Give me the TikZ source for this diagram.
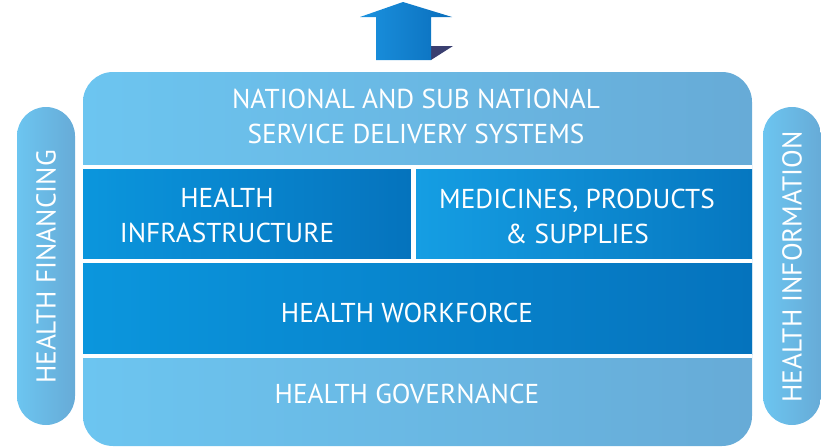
\documentclass[tikz,border=0pt]{standalone}
\usepackage{fontspec}
\setmainfont{PT Sans}
\definecolor{paleL}{HTML}{6CC5F0}
\definecolor{paleR}{HTML}{67ABD7}
\definecolor{deepL}{HTML}{0B96DD}
\definecolor{deepR}{HTML}{0573BD}
\definecolor{medL}{HTML}{159EE3}
\definecolor{medR}{HTML}{0677C0}
\definecolor{arrL}{HTML}{1B92DF}
\definecolor{arrR}{HTML}{0A6EBC}
\definecolor{shadowblue}{HTML}{3A3F70}
\tikzset{
  label/.style={text=white, font=\fontsize{27.3}{35}\selectfont, align=center, inner sep=0pt},
  pale/.style={left color=paleL, right color=paleR},
  deep/.style={left color=deepL, right color=deepR},
  gap/.style={fill=white}
}
\begin{document}
\begin{tikzpicture}[x=1pt, y=-1pt]
\useasboundingbox (0,0) rectangle (821,447);
% upward arrow with its shadow
\fill[shadowblue] (431,46) -- (453,46) -- (431,60) -- cycle;
\shade[left color=arrL, right color=arrR] (376,60) -- (376,17) -- (360,17) -- (403,2) -- (452,17) -- (431,17) -- (431,60) -- cycle;
% side pillars
\shade[pale, rounded corners=29pt] (17,107) rectangle (75,425);
\shade[pale, rounded corners=29pt] (763,107) rectangle (821,425);
% main body
\shade[pale, rounded corners=30pt] (83,72) rectangle (752,446);
% dark rows
\shade[deep] (83,169) rectangle (411,259);
\shade[left color=medL, right color=medR] (416,169) rectangle (752,259);
\shade[deep] (83,263) rectangle (752,354);
% white separators
\fill[gap] (83,165) rectangle (752,169);
\fill[gap] (83,259) rectangle (752,263);
\fill[gap] (83,354) rectangle (752,358);
\fill[gap] (411,169) rectangle (416,259);
% labels
\node[label] (sds) at (416,116) {NATIONAL AND SUB NATIONAL\\SERVICE DELIVERY SYSTEMS};
\node[label] (infra) at (227,215) {HEALTH\\INFRASTRUCTURE};
\node[label] (meds) at (577,216) {MEDICINES, PRODUCTS\\\& SUPPLIES};
\node[label] (work) at (407,313) {HEALTH WORKFORCE};
\node[label] (gov) at (407,394) {HEALTH GOVERNANCE};
\node[label, rotate=90] (fin) at (46,267) {HEALTH FINANCING};
\node[label, rotate=90] (info) at (792,267) {HEALTH INFORMATION};
\end{tikzpicture}
\end{document}
